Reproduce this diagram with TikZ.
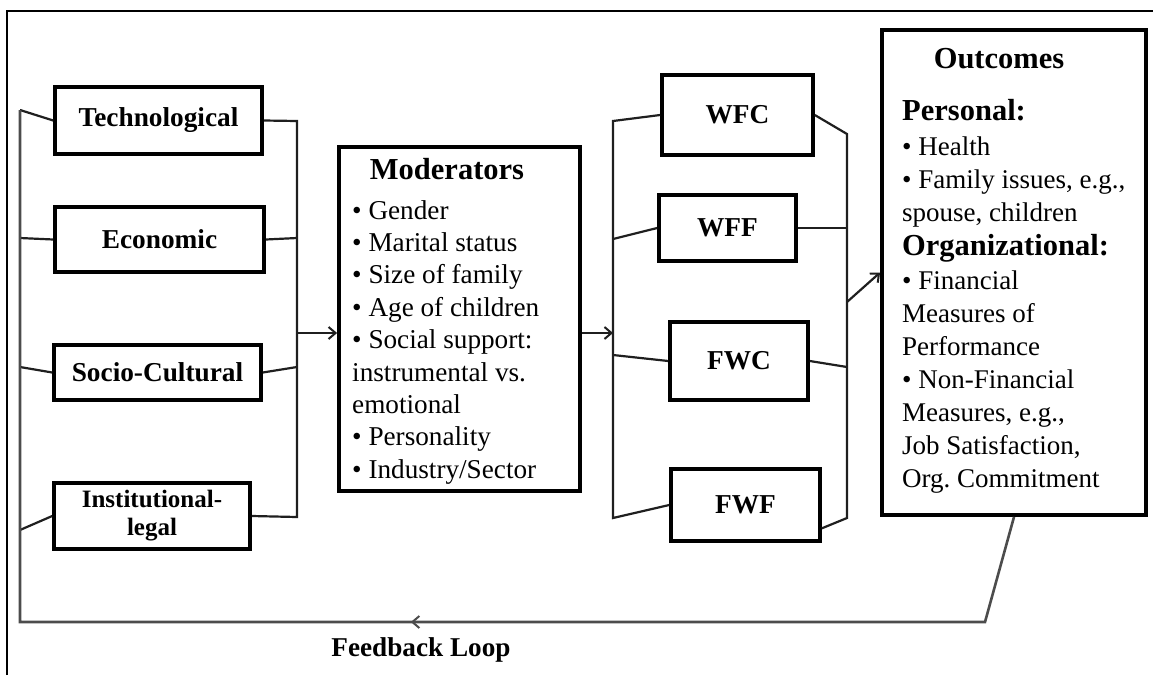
\documentclass[tikz,border=0pt]{standalone}
\usepackage{fontspec}
\setmainfont{Liberation Serif}
\usetikzlibrary{arrows.meta,decorations.markings,calc}
\begin{document}
\frenchspacing
\begin{tikzpicture}[x=1pt,y=-1pt,
  box/.style={draw, line width=3.6pt, inner sep=0pt, align=center,
    font=\fontsize{27.3}{28}\selectfont\bfseries},
  bigbox/.style={draw, line width=3.8pt, inner sep=0pt},
  conn/.style={draw=black!88, line width=2.2pt},
  fb/.style={draw=black!70, line width=2.6pt},
  arr/.style={-{Straight Barb[length=7pt,width=12pt,line width=2pt]}},
  head/.style={font=\fontsize{30.5}{33}\selectfont\bfseries, inner sep=0pt},
  body/.style={font=\fontsize{27.2}{32.4}\selectfont, inner sep=0pt, anchor=north west, align=left},
  obody/.style={font=\fontsize{27}{33}\selectfont, inner sep=0pt, anchor=north west, align=left},
]
\useasboundingbox (0,0) rectangle (1153,675);
% frame
\draw[line width=1.8pt] (7,675) -- (7,11) -- (1153,11);

% left boxes
\node[box, minimum width=207, minimum height=67] (tech) at (158.5,120.5) {Technological};
\node[box, minimum width=209, minimum height=65] (econ) at (159.5,239.5) {Economic};
\node[box, minimum width=207, minimum height=55] (socio) at (157.5,372.5) {Socio-Cultural};
\node[box, minimum width=196, minimum height=66, font=\fontsize{25}{28}\selectfont\bfseries] (inst) at (152,516) {Institutional-\\legal};

% moderators
\node[bigbox, minimum width=241, minimum height=344] (mod) at (459.5,319) {};
\node[head, anchor=base] (modh) at (447,179) {Moderators};
\node[body] (modb) at (352,200) {• Gender\\ • Marital status\\ • Size of family\\ • Age of children\\ • Social support:\\ instrumental vs.\\ emotional\\ • Personality\\ • Industry/Sector};

% middle boxes
\node[box, minimum width=151, minimum height=80] (wfc) at (737.5,115) {WFC};
\node[box, minimum width=137, minimum height=66] (wff) at (727.5,228) {WFF};
\node[box, minimum width=138, minimum height=78] (fwc) at (739,361) {FWC};
\node[box, minimum width=149, minimum height=72] (fwf) at (745.5,505) {FWF};

% outcomes
\node[bigbox, minimum width=264, minimum height=485] (out) at (1014,272.5) {};
\node[head, anchor=base] (outh) at (999,68) {Outcomes};
\node[head, anchor=base west] (outp) at (902,120) {Personal:};
\node[obody] (outpb) at (902,136.5) {• Health\\ • Family issues, e.g.,\\ spouse, children};
\node[head, anchor=base west] (outo) at (902,255) {Organizational:};
\node[obody] (outob) at (902,270.5) {• Financial\\ Measures of\\ Performance\\ • Non-Financial\\ Measures, e.g.,\\ Job Satisfaction,\\ Org. Commitment};

% bus coordinates
\coordinate (lb1) at (20,110);
\coordinate (lb2) at (20,238);
\coordinate (lb3) at (20,367);
\coordinate (lb4) at (20,530);
\coordinate (lbB) at (20,622);
\coordinate (rb1) at (297,121);
\coordinate (rb2) at (297,238);
\coordinate (rb3) at (297,367);
\coordinate (rb4) at (297,517);
\coordinate (rbA) at (297,333);
\coordinate (mb1) at (613,121);
\coordinate (mb2) at (613,239);
\coordinate (mb3) at (613,355);
\coordinate (mb4) at (613,518);
\coordinate (mbA) at (613,333);
\coordinate (ob1) at (847,134);
\coordinate (ob2) at (847,228);
\coordinate (ob3) at (847,367);
\coordinate (ob4) at (847,518);
\coordinate (obA) at (847,302);
\coordinate (fbR) at (985,622);

% left side connectors
\draw[conn] (lb1) -- (tech.west);
\draw[conn] (lb2) -- (econ.west);
\draw[conn] (lb3) -- (socio.west);
\draw[conn] (lb4) -- (inst.west);
\draw[conn] (tech.east) -- (rb1) -- (rb4) -- (inst.east);
\draw[conn] (econ.east) -- (rb2);
\draw[conn] (socio.east) -- (rb3);
\draw[conn, arr] (rbA) -- (rbA -| mod.west);

% middle connectors
\draw[conn, arr] (mod.east |- mbA) -- (mbA);
\draw[conn] (wfc.west) -- (mb1) -- (mb4) -- (fwf.west);
\draw[conn] (mb2) -- (wff.west);
\draw[conn] (mb3) -- (fwc.west);
\draw[conn] (wfc.east) -- (ob1) -- (ob4) -- (fwf.-17);
\draw[conn] (wff.east) -- (ob2);
\draw[conn] (fwc.east) -- (ob3);
\draw[conn, arr] (obA) -- (out.west);

% feedback loop
\draw[fb] (out.south) -- (fbR) -- (lbB) -- (lb1);
\draw[fb, arr] ($(fbR)!0.58!(lbB)$) -- ($(fbR)!0.595!(lbB)$);
\node[head, font=\fontsize{27.2}{28}\selectfont\bfseries, anchor=base] (fbl) at (421,656) {Feedback Loop};
\end{tikzpicture}
\end{document}
